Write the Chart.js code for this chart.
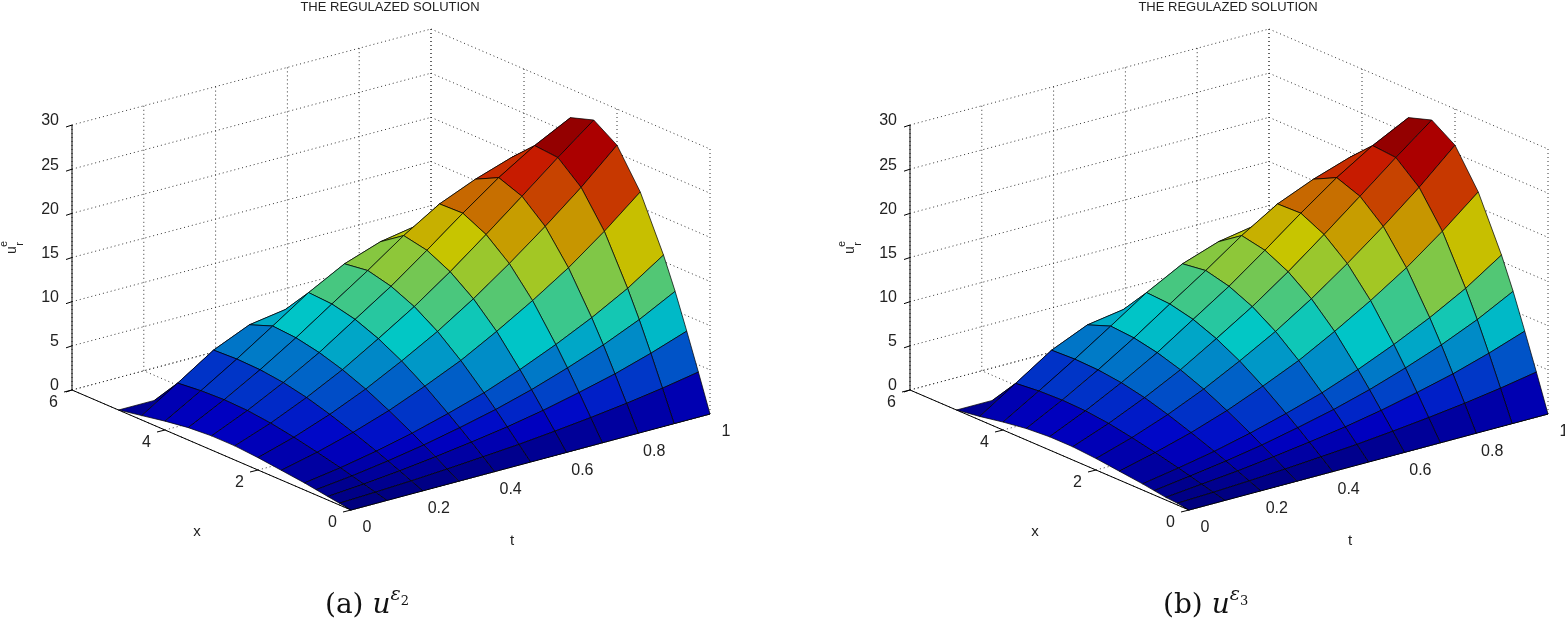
<!DOCTYPE html>
<html><head><meta charset="utf-8">
<script src="https://cdn.jsdelivr.net/npm/chart.js"></script>
<style>
html,body{margin:0;padding:0;background:#fff;width:1565px;height:635px;overflow:hidden}
#wrap{position:absolute;left:0;top:0;width:1565px;height:635px}
.cap{position:absolute;top:582px;font-family:"DejaVu Serif","Liberation Serif",serif;font-size:28px;color:#111}
.cap i{font-style:italic}
sup{font-size:19px;vertical-align:13px}
sub{font-size:13px}
</style></head><body>
<div id="wrap"><canvas id="c" width="1565" height="635"></canvas></div>
<div class="cap" style="left:325px">(a) <i>u</i><sup><i>ε</i><sub>2</sub></sup></div>
<div class="cap" style="left:1163px">(b) <i>u</i><sup><i>ε</i><sub>3</sub></sup></div>
<script>
const titles = ["THE REGULAZED SOLUTION", "THE REGULAZED SOLUTION"];
const xGrid = [0, 0.25, 0.5, 0.75, 1, 1.5, 2, 2.5, 3, 3.5, 4, 4.5, 5];
const tGrid = [0, 0.1, 0.2, 0.3, 0.4, 0.5, 0.6, 0.7, 0.8, 0.9, 1];
const xTicks = [0, 2, 4, 6];
const tTicks = [0, 0.2, 0.4, 0.6, 0.8, 1];
const zTicks = [0, 5, 10, 15, 20, 25, 30];
// rows: t, columns: x
const U1 = [
 [0,0.2,0.4,0.6,0.8,1.1,1.4,1.6,1.6,1.4,1.0,0.5,0],
 [0,0.36,0.71,1.08,1.43,2.05,2.62,3.09,3.38,3.47,3.36,3.09,0],
 [0,0.56,1.12,1.68,2.22,3.21,4.12,4.90,5.46,5.78,5.86,5.74,0],
 [0,0.81,1.62,2.40,3.18,4.60,5.90,6.96,7.77,8.31,8.51,7.52,0],
 [0,1.10,2.20,3.27,4.31,6.27,7.99,9.39,10.44,11.05,11.21,8.16,0],
 [0,1.43,2.84,4.24,5.57,8.09,10.25,11.93,13.10,13.75,13.38,8.45,0],
 [0,1.83,3.62,5.40,7.11,10.30,12.86,14.79,16.09,16.62,14.79,8.64,0],
 [0,2.29,4.56,6.77,8.86,12.70,15.76,17.92,19.20,19.12,15.51,8.73,0],
 [0,2.81,5.58,8.29,10.81,15.33,18.88,21.16,22.14,20.83,16.18,8.86,0],
 [0,3.44,6.83,10.07,13.04,18.37,22.21,24.46,24.68,22.19,16.70,8.73,0],
 [0,4.18,8.25,12.19,15.73,21.74,25.90,27.62,26.76,22.99,16.90,8.86,0]
];
const U2 = [
 [0,0.2,0.3,0.5,0.7,1.0,1.3,1.5,1.5,1.3,0.9,0.4,0],
 [0,0.35,0.70,1.05,1.40,2.01,2.58,3.05,3.34,3.43,3.33,3.06,0],
 [0,0.56,1.11,1.66,2.20,3.19,4.10,4.88,5.44,5.76,5.85,5.73,0],
 [0,0.81,1.62,2.39,3.17,4.59,5.89,6.95,7.76,8.30,8.50,7.51,0],
 [0,1.10,2.20,3.27,4.31,6.27,7.99,9.39,10.44,11.05,11.21,8.16,0],
 [0,1.43,2.84,4.24,5.57,8.09,10.25,11.93,13.10,13.75,13.38,8.45,0],
 [0,1.83,3.62,5.40,7.11,10.30,12.86,14.79,16.09,16.62,14.79,8.64,0],
 [0,2.29,4.56,6.77,8.86,12.70,15.76,17.92,19.20,19.12,15.51,8.73,0],
 [0,2.81,5.58,8.29,10.81,15.33,18.88,21.16,22.14,20.83,16.18,8.86,0],
 [0,3.44,6.83,10.07,13.04,18.37,22.21,24.46,24.68,22.19,16.70,8.73,0],
 [0,4.18,8.25,12.19,15.73,21.74,25.90,27.62,26.76,22.99,16.90,8.86,0]
];
const panels = [{dx:0, U:U1}, {dx:838, U:U2}];

const O = [351, 510];
const EX = [-46.5, -20];
const ET = [359, -96];
const EZ = 265/30;

function jet(v){
  const f = c => Math.max(0, Math.min(1, 1.5 - Math.abs(4*v - c)));
  const k = 0.78;
  return `rgb(${Math.round(255*k*f(3))},${Math.round(255*k*f(2))},${Math.round(255*k*f(1))})`;
}

function drawPanel(chart, p, pi){
  const ctx = chart.ctx, sx = chart.scales.x, sy = chart.scales.y;
  const X = v => sx.getPixelForValue(v), Y = v => sy.getPixelForValue(v);
  const P = (x,t,z) => [X(O[0]+p.dx+EX[0]*x+ET[0]*t), Y(O[1]+EX[1]*x+ET[1]*t-EZ*z)];
  const seg = (a,b,dash) => {ctx.beginPath(); ctx.setLineDash(dash||[]); ctx.moveTo(a[0],a[1]); ctx.lineTo(b[0],b[1]); ctx.stroke();};
  const dot=[1,3];
  ctx.save();
  ctx.strokeStyle='#333'; ctx.lineWidth=1;
  zTicks.forEach(z=>{ seg(P(6,0,z),P(6,1,z),dot); seg(P(6,1,z),P(0,1,z),dot); });
  tTicks.forEach(t=>{ seg(P(6,t,0),P(6,t,30),dot); seg(P(0,t,0),P(6,t,0),dot); });
  xTicks.forEach(x=>{ seg(P(x,1,0),P(x,1,30),dot); seg(P(x,0,0),P(x,1,0),dot); });
  ctx.strokeStyle='#000'; ctx.setLineDash([]);
  seg(P(0,0,0),P(6,0,0)); seg(P(0,0,0),P(0,1,0)); seg(P(6,0,0),P(6,0,30));
  zTicks.forEach(z=>{const a=P(6,0,z); seg(a,[a[0]-6,a[1]+2]);});
  xTicks.forEach(x=>{const a=P(x,0,0); seg(a,[a[0]-8,a[1]+2]);});
  tTicks.forEach(t=>{const a=P(0,t,0); seg(a,[a[0]-6,a[1]-4]);});
  const U=p.U, quads=[];
  let umax=0; U.forEach(r=>r.forEach(v=>{if(v>umax)umax=v;}));
  for(let i=0;i<tGrid.length-1;i++) for(let j=0;j<xGrid.length-1;j++){
    const t0=tGrid[i],t1=tGrid[i+1],x0=xGrid[j],x1=xGrid[j+1];
    const avg=(U[i][j]+U[i+1][j]+U[i][j+1]+U[i+1][j+1])/4;
    quads.push({d:20*(x0+x1)/2+95*(t0+t1)/2, pts:[P(x0,t0,U[i][j]),P(x1,t0,U[i][j+1]),P(x1,t1,U[i+1][j+1]),P(x0,t1,U[i+1][j])], v:avg});
  }
  quads.sort((a,b)=>b.d-a.d);
  ctx.lineWidth=0.8; ctx.strokeStyle='rgba(0,0,0,0.9)';
  quads.forEach(q=>{
    ctx.beginPath(); q.pts.forEach((pt,k)=>k?ctx.lineTo(pt[0],pt[1]):ctx.moveTo(pt[0],pt[1])); ctx.closePath();
    ctx.fillStyle=jet(0.03+0.97*q.v/umax); ctx.fill(); ctx.stroke();
  });
  ctx.fillStyle='#222'; ctx.font='16px "Liberation Sans", Arial, sans-serif';
  ctx.textAlign='right'; ctx.textBaseline='middle';
  zTicks.forEach(z=>{const a=P(6,0,z); ctx.fillText(String(z),a[0]-13,a[1]-4);});
  xTicks.forEach(x=>{const a=P(x,0,0); ctx.fillText(String(x),a[0]-14,a[1]+13);});
  ctx.textAlign='center';
  tTicks.forEach(t=>{const a=P(0,t,0); ctx.fillText(String(t),a[0]+16,a[1]+18);});
  ctx.font='15px "Liberation Sans", Arial, sans-serif';
  ctx.fillText('x', X(197+p.dx), Y(532));
  ctx.fillText('t', X(512+p.dx), Y(541));
  ctx.font='13px "Liberation Sans", Arial, sans-serif';
  ctx.fillText(titles[pi], X(390+p.dx), Y(7));
  ctx.save(); ctx.translate(X(12+p.dx), Y(250)); ctx.rotate(-Math.PI/2);
  ctx.font='14px "Liberation Sans", Arial, sans-serif'; ctx.fillText('u',0,0);
  ctx.font='11px "Liberation Sans", Arial, sans-serif'; ctx.fillText('r',6,8); ctx.fillText('e',6,-8);
  ctx.restore();
  ctx.restore();
}

const plot = { id:'plot', afterDraw(chart){ panels.forEach((p,pi)=>drawPanel(chart,p,pi)); } };

new Chart(document.getElementById('c'), {
  type:'scatter',
  data:{datasets:[{data:[], pointRadius:0}]},
  options:{
    responsive:false, animation:false, events:[],
    layout:{padding:0},
    plugins:{legend:{display:false}, tooltip:{enabled:false}},
    scales:{
      x:{type:'linear', min:0, max:1565, display:false},
      y:{type:'linear', min:0, max:635, reverse:true, display:false}
    }
  },
  plugins:[plot]
});
</script></body></html>
